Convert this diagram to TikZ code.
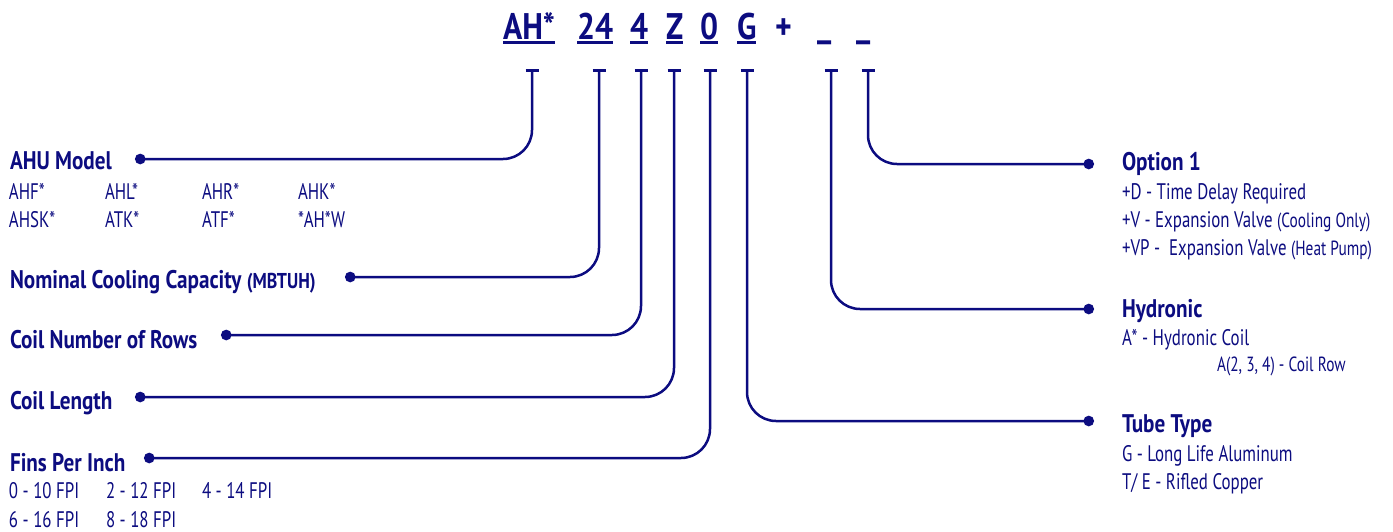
\documentclass[tikz,border=0pt]{standalone}
\usepackage{fontspec}
\setmainfont[FakeStretch=0.75]{PT Sans}
\newfontfamily\codefont[FakeStretch=0.86]{PT Sans}
\newfontfamily\headfont[FakeStretch=0.83]{PT Sans}
\usetikzlibrary{arrows.meta}
\definecolor{navy}{RGB}{12,12,128}
\tikzset{
  txt/.style={anchor=base west, inner sep=0pt, outer sep=0pt, text=navy, font=\fontsize{22.5}{26}\selectfont},
  head/.style={txt, font=\fontsize{25.5}{28}\selectfont\headfont\bfseries},
  small/.style={txt, font=\fontsize{20.5}{23}\selectfont},
  code/.style={anchor=base west, inner sep=0pt, outer sep=0pt, text=navy, font=\fontsize{37}{40}\selectfont\codefont\bfseries},
  uline/.style={draw=navy, line width=3pt},
  conn/.style={draw=navy, line width=2.5pt, rounded corners=29pt, {Bar[width=13pt]}-{Circle[length=10.5pt]}}
}
\newcommand{\sm}[1]{{\fontsize{20.5}{23}\selectfont #1}}
\newcommand{\smb}[1]{{\fontsize{21.5}{24}\selectfont #1}}
\begin{document}
\begin{tikzpicture}[x=1pt,y=-1pt]
\useasboundingbox (0,0) rectangle (1393,531);
% model code
\node[code] (c1) at (503,39) {AH*};
\node[code] (c2) at (577,39) {24};
\node[code] (c3) at (630,39) {4};
\node[code] (c4) at (666,39) {Z};
\node[code] (c5) at (700,39) {0};
\node[code] (c6) at (737,39) {G};
\node[code] (c7) at (775,39) {+};
\node[code] (c8) at (817,36) {\_};
\node[code] (c9) at (856,36) {\_};
\foreach \c in {c1,c2,c3,c4,c5,c6}{
  \draw[uline] ([yshift=-3.5pt]\c.base west) -- ([yshift=-3.5pt]\c.base east);
}
% T tops
\coordinate (t1) at (532,69);
\coordinate (t2) at (599,69);
\coordinate (t3) at (641,69);
\coordinate (t4) at (674,69);
\coordinate (t5) at (710,69);
\coordinate (t6) at (747,69);
\coordinate (t7) at (831,69);
\coordinate (t8) at (868,69);
% dot ends
\coordinate (d1) at (135,159);
\coordinate (d2) at (345,277);
\coordinate (d3) at (221,335);
\coordinate (d4) at (135,397);
\coordinate (d5) at (144,458);
\coordinate (d6) at (1094,421);
\coordinate (d7) at (1094,309);
\coordinate (d8) at (1094,164);
\draw[conn] (t1) |- (d1);
\draw[conn] (t2) |- (d2);
\draw[conn] (t3) |- (d3);
\draw[conn] (t4) |- (d4);
\draw[conn] (t5) |- (d5);
\draw[conn] (t6) |- (d6);
\draw[conn] (t7) |- (d7);
\draw[conn] (t8) |- (d8);
% left labels
\node[head] (ahu) at (10,169) {AHU Model};
\node[txt] (m1) at (9,199) {AHF*};
\node[txt] (m2) at (105,199) {AHL*};
\node[txt] (m3) at (202,199) {AHR*};
\node[txt] (m4) at (298,199) {AHK*};
\node[txt] (m5) at (9,227) {AHSK*};
\node[txt] (m6) at (105,227) {ATK*};
\node[txt] (m7) at (202,227) {ATF*};
\node[txt] (m8) at (298,227) {*AH*W};
\node[head] (nom) at (10,288) {Nominal Cooling Capacity \smb{(MBTUH)}};
\node[head] (rows) at (10,348) {Coil Number of Rows};
\node[head] (len) at (10,409) {Coil Length};
\node[head] (fins) at (10,471) {Fins Per Inch};
\node[txt] (f1) at (9,498) {0 - 10 FPI};
\node[txt] (f2) at (106,498) {2 - 12 FPI};
\node[txt] (f3) at (202,498) {4 - 14 FPI};
\node[txt] (f4) at (9,527) {6 - 16 FPI};
\node[txt] (f5) at (106,527) {8 - 18 FPI};
% right labels
\node[head] (opt) at (1122,170) {Option 1};
\node[txt] (o1) at (1122,199) {+D - Time Delay Required};
\node[txt] (o2) at (1122,227) {+V - Expansion Valve \sm{(Cooling Only)}};
\node[txt] (o3) at (1122,255) {+VP -~ Expansion Valve \sm{(Heat Pump)}};
\node[head] (hyd) at (1122,317) {Hydronic};
\node[txt] (h1) at (1122,345) {A* - Hydronic Coil};
\node[small] (h2) at (1217,371) {A(2, 3, 4) - Coil Row};
\node[head] (tube) at (1122,432) {Tube Type};
\node[txt] (u1) at (1122,461) {G - Long Life Aluminum};
\node[txt] (u2) at (1122,489) {T/ E - Rifled Copper};
\end{tikzpicture}
\end{document}
